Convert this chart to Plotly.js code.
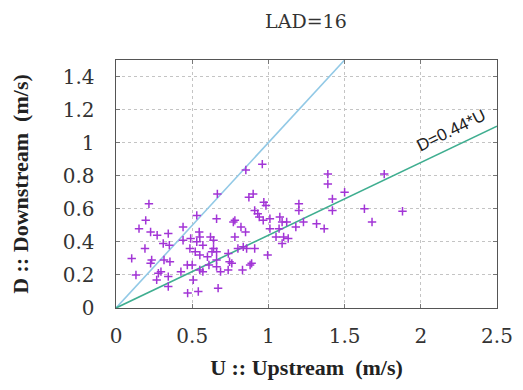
<!DOCTYPE html>
<html>
<head>
<meta charset="utf-8">
<script src="https://cdn.plot.ly/plotly-3.0.1.min.js"></script>
<style>html,body{margin:0;padding:0;background:#fff;}#chart{width:523px;height:390px;}</style>
</head>
<body>
<div id="chart"></div>
<script>
// Measured points: U (upstream, m/s) and D (downstream, m/s)
const upstreamU = [
  0.216,0.195,0.151,0.227,0.27,0.343,0.44,0.53,0.665,0.66,0.546,0.44,0.49,0.31,0.35,0.19,0.103,0.234,0.227,0.315,
  0.354,0.278,0.295,0.131,0.267,0.343,0.426,0.468,0.343,0.47,0.54,0.507,0.67,0.485,
  0.52,0.55,0.60,0.63,0.66,0.64,0.61,0.66,0.57,0.53,0.55,0.62,0.64,0.55,0.57,0.50,0.66,0.686,0.736,0.737,0.745,
  0.96,0.852,0.872,0.90,0.97,0.984,0.91,0.93,0.94,0.966,1.01,1.01,1.075,1.09,1.12,1.07,1.05,1.10,1.13,1.09,
  1.18,1.23,1.20,1.20,1.316,1.366,1.39,1.39,1.42,1.42,1.50,1.63,1.68,1.76,1.88,
  0.77,0.78,0.82,0.85,0.78,0.835,0.80,0.857,0.91,0.995,0.76,0.83,0.88,0.89
];
const downstreamD = [
  0.63,0.53,0.48,0.46,0.44,0.45,0.49,0.56,0.69,0.54,0.46,0.41,0.42,0.39,0.38,0.36,0.30,0.29,0.27,0.29,
  0.28,0.21,0.22,0.20,0.17,0.19,0.22,0.26,0.13,0.09,0.10,0.17,0.12,0.36,
  0.34,0.32,0.31,0.34,0.34,0.36,0.26,0.25,0.38,0.40,0.43,0.43,0.41,0.23,0.22,0.26,0.29,0.22,0.23,0.33,0.28,
  0.87,0.835,0.67,0.69,0.64,0.62,0.59,0.57,0.55,0.53,0.54,0.48,0.55,0.52,0.52,0.48,0.43,0.43,0.42,0.39,
  0.49,0.52,0.63,0.59,0.51,0.48,0.81,0.75,0.66,0.59,0.70,0.60,0.52,0.81,0.585,
  0.52,0.53,0.49,0.46,0.43,0.37,0.36,0.36,0.36,0.32,0.27,0.23,0.26,0.27
];
// Reference lines
const identityU = [0, 1.5];
const identityD = [0, 1.5];
const fitU = [0, 2.5];
const fitD = [0, 1.1];
const xTicks = [0, 0.5, 1, 1.5, 2, 2.5];
const xTickText = ['0', '0.5', '1', '1.5', '2', '2.5'];
const yTicks = [0, 0.2, 0.4, 0.6, 0.8, 1, 1.2, 1.4];
const yTickText = ['0', '0.2', '0.4', '0.6', '0.8', '1', '1.2', '1.4'];
const fitLabel = 'D=0.44*U';
const fitLabelPos = [2.2, 1.075];

const traces = [
  {x: identityU, y: identityD, mode: 'lines', line: {color: '#92c9e6', width: 1.6}, hoverinfo: 'skip'},
  {x: fitU, y: fitD, mode: 'lines', line: {color: '#3fae90', width: 1.6}, hoverinfo: 'skip'},
  {x: upstreamU, y: downstreamD, mode: 'markers',
   marker: {symbol: 'cross-thin-open', size: 6, line: {color: '#a235d6', width: 1.5}, color: '#a235d6'}}
];

const axisCommon = {
  showline: true, linecolor: '#555', linewidth: 1.4, mirror: 'allticks',
  ticks: 'inside', ticklen: 4, tickcolor: '#777', tickwidth: 1,
  showgrid: true, gridcolor: '#c4c4c4', griddash: 'dot', gridwidth: 1,
  zeroline: false, tickmode: 'array',
  tickfont: {family: 'DejaVu Serif', size: 20, color: '#333'}
};

const layout = {
  width: 523, height: 390,
  margin: {l: 116, r: 26, t: 60, b: 82},
  paper_bgcolor: '#fff', plot_bgcolor: '#fff',
  showlegend: false,
  title: {text: 'LAD=16', x: 0.585, xanchor: 'center', y: 0.945, yanchor: 'middle',
          font: {family: 'DejaVu Serif', size: 19, color: '#333'}},
  xaxis: Object.assign({}, axisCommon, {
    range: [0, 2.5], tickvals: xTicks, ticktext: xTickText, ticklabelstandoff: 10,
    title: {text: 'U :: Upstream\u00a0\u00a0(m/s)', standoff: 12,
            font: {family: 'Liberation Serif', size: 22, color: '#222', weight: 'bold'}}
  }),
  yaxis: Object.assign({}, axisCommon, {
    range: [0, 1.5], tickvals: yTicks, ticktext: yTickText, ticklabelstandoff: 16,
    title: {text: 'D :: Downstream\u00a0\u00a0(m/s)', standoff: 28,
            font: {family: 'Liberation Serif', size: 22, color: '#222', weight: 'bold'}}
  }),
  annotations: [{
    x: fitLabelPos[0], y: fitLabelPos[1], xref: 'x', yref: 'y', text: fitLabel,
    showarrow: false, textangle: -26, xanchor: 'center', yanchor: 'middle',
    font: {family: 'Liberation Sans', size: 17, color: '#222'}
  }]
};

Plotly.newPlot('chart', traces, layout, {displayModeBar: false, staticPlot: true});
</script>
</body>
</html>
